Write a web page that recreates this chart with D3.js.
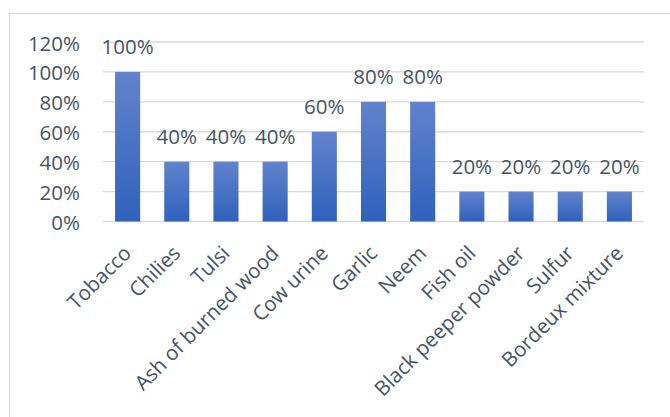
<!DOCTYPE html>
<html>
<head>
<meta charset="utf-8">
<script src="https://cdn.jsdelivr.net/npm/d3@7"></script>
<style>
  body { margin: 0; background: #fff; }
  svg { display: block; }
</style>
</head>
<body>
<script>
var width = 670;
var height = 417;

var categories = ["Tobacco", "Chilies", "Tulsi", "Ash of burned wood", "Cow urine", "Garlic",
    "Neem", "Fish oil", "Black peeper powder", "Sulfur", "Bordeux mixture"];
var values = [100, 40, 40, 40, 60, 80, 80, 20, 20, 20, 20];
var yTicks = [0, 20, 40, 60, 80, 100, 120];

var textColor = "#44546a";
var fontFamily = "'Open Sans', sans-serif";
var fontSize = 20.5;

var svg = d3.select("body").append("svg").attr("width", width).attr("height", height);

// chart area border (runs off the right and bottom edges)
svg.append("rect")
    .attr("x", 9.5).attr("y", 13.5)
    .attr("width", 700).attr("height", 450)
    .attr("fill", "none").attr("stroke", "#d9d9d9").attr("stroke-width", 1.2);

var defs = svg.append("defs");
var grad = defs.append("linearGradient").attr("id", "barGrad")
    .attr("x1", 0).attr("y1", 0).attr("x2", 0).attr("y2", 1);
grad.append("stop").attr("offset", "0%").attr("stop-color", "#6283cc");
grad.append("stop").attr("offset", "100%").attr("stop-color", "#2f61bc");

var x = d3.scaleBand().domain(categories).range([103, 644]).paddingInner(0.49).paddingOuter(0.245);
var y = d3.scaleLinear().domain([0, 120]).range([221.5, 42]);

// gridlines
svg.append("g").selectAll("line").data(yTicks).enter().append("line")
    .attr("x1", 103).attr("x2", 644)
    .attr("y1", function (d) { return y(d); })
    .attr("y2", function (d) { return y(d); })
    .attr("stroke", "#d9d9d9").attr("stroke-width", 1.3);

// y tick labels
svg.append("g").selectAll("text").data(yTicks).enter().append("text")
    .text(function (d) { return d + "%"; })
    .attr("x", 80)
    .attr("y", function (d) { return y(d) + 8.5; })
    .attr("text-anchor", "end")
    .attr("font-family", fontFamily).attr("font-size", fontSize)
    .attr("fill", textColor);

// bars
svg.append("g").selectAll("rect").data(values).enter().append("rect")
    .attr("x", function (d, i) { return x(categories[i]); })
    .attr("y", function (d) { return y(d); })
    .attr("width", x.bandwidth())
    .attr("height", function (d) { return y(0) - y(d); })
    .attr("fill", "url(#barGrad)");

// value labels
svg.append("g").selectAll("text").data(values).enter().append("text")
    .text(function (d) { return d + "%"; })
    .attr("x", function (d, i) { return x(categories[i]) + x.bandwidth() / 2; })
    .attr("y", function (d) { return y(d) - 17.5; })
    .attr("text-anchor", "middle")
    .attr("font-family", fontFamily).attr("font-size", fontSize)
    .attr("fill", textColor);

// category labels, rotated
svg.append("g").selectAll("text").data(categories).enter().append("text")
    .text(function (d) { return d; })
    .attr("transform", function (d) {
        return "translate(" + (x(d) + x.bandwidth() / 2 + 5) + "," + (y(0) + 33) + ") rotate(-45)";
    })
    .attr("text-anchor", "end")
    .attr("font-family", fontFamily).attr("font-size", fontSize)
    .attr("fill", textColor);
</script>
</body>
</html>
